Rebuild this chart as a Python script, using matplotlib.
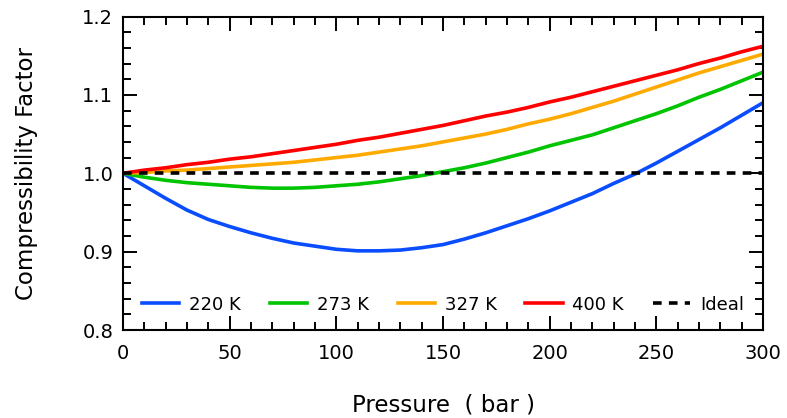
import matplotlib
matplotlib.use("Agg")
import matplotlib.pyplot as plt
from matplotlib.ticker import MultipleLocator

pressure = list(range(0, 301, 10))

z_220 = [1.000, 0.984, 0.968, 0.953, 0.941, 0.932, 0.924, 0.917, 0.911, 0.907,
         0.903, 0.901, 0.901, 0.902, 0.905, 0.909, 0.916, 0.924, 0.933, 0.942,
         0.952, 0.963, 0.974, 0.987, 0.999, 1.013, 1.028, 1.043, 1.058, 1.074,
         1.090]
z_273 = [1.000, 0.995, 0.991, 0.988, 0.986, 0.984, 0.982, 0.981, 0.981, 0.982,
         0.984, 0.986, 0.989, 0.993, 0.997, 1.002, 1.007, 1.013, 1.020, 1.027,
         1.035, 1.042, 1.049, 1.058, 1.067, 1.076, 1.086, 1.097, 1.107, 1.118,
         1.129]
z_327 = [1.000, 1.001, 1.003, 1.004, 1.006, 1.008, 1.010, 1.012, 1.014, 1.017,
         1.020, 1.023, 1.027, 1.031, 1.035, 1.040, 1.045, 1.050, 1.056, 1.063,
         1.069, 1.076, 1.084, 1.092, 1.101, 1.110, 1.119, 1.128, 1.136, 1.144,
         1.152]
z_400 = [1.000, 1.004, 1.007, 1.011, 1.014, 1.018, 1.021, 1.025, 1.029, 1.033,
         1.037, 1.042, 1.046, 1.051, 1.056, 1.061, 1.067, 1.073, 1.078, 1.084,
         1.091, 1.097, 1.104, 1.111, 1.118, 1.125, 1.132, 1.140, 1.147, 1.155,
         1.162]
ideal = [1.0] * len(pressure)

plt.rcParams["font.family"] = ["DejaVu Sans"]

fig = plt.figure(figsize=(7.87, 4.18), dpi=100)
ax = fig.add_axes([0.1563, 0.2105, 0.8132, 0.75])

ax.plot(pressure, z_220, color="#0a4dff", lw=2.6, label="220 K")
ax.plot(pressure, z_273, color="#00c400", lw=2.6, label="273 K")
ax.plot(pressure, z_327, color="#ffaa00", lw=2.6, label="327 K")
ax.plot(pressure, z_400, color="#ff0000", lw=2.6, label="400 K")
ax.plot(pressure, ideal, color="black", lw=2.6, dashes=(2.4, 2.0), label="Ideal")

ax.set_xlim(0, 300)
ax.set_ylim(0.8, 1.2)
ax.xaxis.set_major_locator(MultipleLocator(50))
ax.xaxis.set_minor_locator(MultipleLocator(10))
ax.yaxis.set_major_locator(MultipleLocator(0.1))
ax.yaxis.set_minor_locator(MultipleLocator(0.02))
ax.tick_params(which="both", direction="in", top=True, right=True, width=1.4)
ax.tick_params(which="major", length=10, labelsize=14)
ax.tick_params(which="minor", length=5.5)
ax.tick_params(axis="x", which="major", pad=10)
ax.tick_params(axis="y", which="major", pad=7)
for s in ax.spines.values():
    s.set_linewidth(1.5)

ax.set_xlabel("Pressure  ( bar )", fontsize=16.5, labelpad=22)
ax.set_ylabel("Compressibility Factor", fontsize=16.5, labelpad=32)

ax.legend(loc="lower center", ncol=5, frameon=False, fontsize=13,
          handlelength=2.05, columnspacing=1.6, handletextpad=0.55,
          bbox_to_anchor=(0.5, 0.0))

fig.savefig("out.png", dpi=100)
